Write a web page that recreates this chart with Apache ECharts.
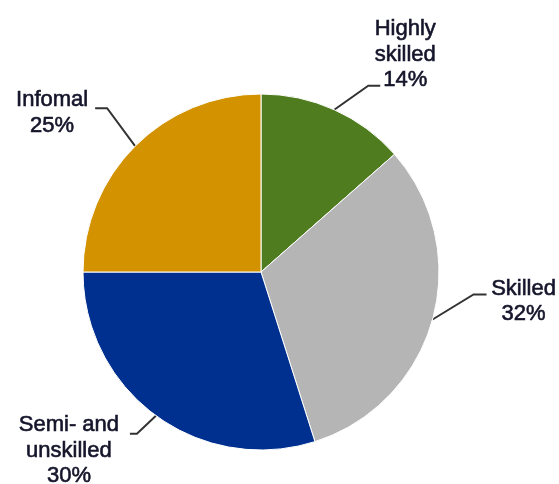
<!DOCTYPE html>
<html><head><meta charset="utf-8">
<script src="https://cdn.jsdelivr.net/npm/echarts@6/dist/echarts.min.js"></script>
<style>html,body{margin:0;padding:0;background:#fff}#c{width:559px;height:484px}</style>
</head><body><div id="c"></div>
<script>
const categories = ['Highly\nskilled', 'Skilled', 'Semi- and\nunskilled', 'Infomal'];
const values = [13.5, 31.6, 29.9, 25.0];
const percentLabels = ['14%', '32%', '30%', '25%'];
const colors = ['#4E7C1E', '#B5B5B5', '#00308F', '#D39300'];

// leader line: elbow offset from slice edge, horizontal run, label centre offset from line end
const elbow = [[34, -24], [41, -25], [-19, 18], [-28, -38]];
const run = [12, 13, -7, -12];
const labelOff = [[25, -31], [37, 7], [-61, 17], [-43, 5]];

const chart = echarts.init(document.getElementById('c'), null, {renderer: 'canvas'});
chart.setOption({
  animation: false,
  series: [{
    type: 'pie',
    center: [261, 272],
    radius: 178,
    startAngle: 90,
    clockwise: true,
    avoidLabelOverlap: false,
    itemStyle: {borderColor: '#ffffff', borderWidth: 1},
    label: {
      show: true,
      position: 'outside',
      formatter: p => categories[p.dataIndex] + '\n' + percentLabels[p.dataIndex],
      fontFamily: 'Liberation Sans, Arial, sans-serif',
      fontSize: 22,
      lineHeight: 25.5,
      color: '#14142a',
      textBorderColor: '#14142a',
      textBorderWidth: 0.6,
      align: 'center'
    },
    labelLine: {show: true, length: 20, length2: 10, lineStyle: {color: '#333333', width: 2}},
    labelLayout: function (params) {
      const i = params.dataIndex;
      const pts = params.labelLinePoints;
      if (!pts) return {};
      const s = pts[0];
      const e = [s[0] + elbow[i][0], s[1] + elbow[i][1]];
      const f = [e[0] + run[i], e[1]];
      return {
        x: f[0] + labelOff[i][0],
        y: f[1] + labelOff[i][1],
        align: 'center',
        verticalAlign: 'middle',
        labelLinePoints: [s, e, f]
      };
    },
    data: categories.map((c, i) => ({name: c, value: values[i], itemStyle: {color: colors[i]}}))
  }]
});
</script></body></html>
